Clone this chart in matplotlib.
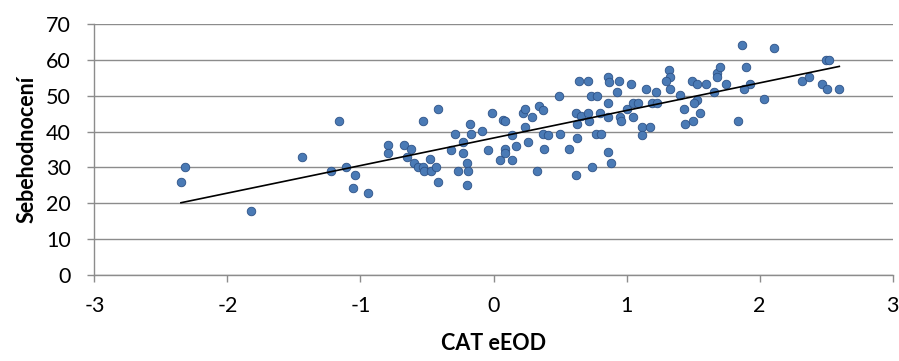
import numpy as np
import matplotlib.pyplot as plt

plt.rcParams['font.family'] = ['Lato', 'DejaVu Sans']

# CAT eEOD scores (x) and self-assessment (y)
cat_eeod = [
    -2.32, -2.35, -1.82, -1.44, -1.16, -1.22, -1.11, -1.04, -1.06, -0.94,
    -0.79, -0.79, -0.67, -0.62, -0.65, -0.60, -0.57, -0.53, -0.52, -0.48,
    -0.47, -0.43, -0.42, -0.53, -0.42, -0.32, -0.29, -0.27, -0.23, -0.23,
    -0.20, -0.19, -0.20, -0.18, -0.17, -0.09, -0.04, -0.01, 0.05, 0.07,
    0.09, 0.09, 0.09, 0.14, 0.14, 0.17, 0.22, 0.24, 0.24, 0.26,
    0.29, 0.33, 0.34, 0.37, 0.37, 0.38, 0.41, 0.49, 0.50, 0.57,
    0.62, 0.63, 0.62, 0.63, 0.64, 0.71, 0.66, 0.71, 0.73, 0.78,
    0.72, 0.74, 0.77, 0.81, 0.80, 0.86, 0.87, 0.94, 0.93, 0.86,
    0.86, 0.95, 0.96, 0.86, 0.88, 1.00, 1.03, 1.05, 1.09, 1.05,
    1.12, 1.12, 1.18, 1.15, 1.22, 1.19, 1.23, 1.32, 1.33, 1.30,
    1.33, 1.40, 1.43, 1.44, 1.49, 1.53, 1.53, 1.51, 1.50, 1.55,
    1.60, 1.68, 1.68, 1.70, 1.66, 1.75, 1.84, 1.87, 1.90, 1.93,
    1.88, 2.03, 2.11, 2.32, 2.37, 2.50, 2.52, 2.47, 2.51, 2.60,
]
sebehodnoceni = [
    30.0, 26.0, 17.9, 33.0, 43.0, 29.0, 30.0, 27.9, 24.2, 23.0,
    36.2, 34.1, 36.3, 35.1, 33.0, 31.3, 30.2, 30.2, 29.0, 32.3,
    29.0, 30.2, 26.0, 43.0, 46.2, 35.0, 39.3, 29.0, 37.2, 34.1,
    31.3, 29.0, 25.1, 42.1, 39.3, 40.2, 35.0, 45.1, 32.1, 43.2,
    43.0, 35.1, 33.9, 32.1, 39.0, 36.1, 45.1, 46.2, 41.4, 37.2,
    44.2, 29.0, 47.2, 46.0, 39.3, 35.1, 39.0, 50.0, 39.3, 35.1,
    27.9, 38.1, 45.1, 42.1, 54.1, 54.1, 44.3, 45.1, 50.0, 50.0,
    43.0, 30.0, 39.3, 39.3, 45.1, 55.1, 53.9, 54.1, 51.1, 48.0,
    44.2, 44.0, 42.9, 34.2, 31.1, 46.2, 53.2, 48.0, 48.0, 44.2,
    41.2, 39.0, 41.2, 51.9, 51.1, 48.0, 48.0, 57.2, 55.1, 54.1,
    51.9, 50.2, 46.2, 42.1, 54.1, 53.2, 48.8, 48.0, 43.0, 45.1,
    53.2, 56.2, 55.1, 58.1, 51.1, 53.2, 43.0, 64.1, 58.1, 53.2,
    51.9, 49.1, 63.2, 54.1, 55.1, 60.1, 60.1, 53.4, 52.0, 52.0,
]
x_ticks = [-3, -2, -1, 0, 1, 2, 3]
y_ticks = [0, 10, 20, 30, 40, 50, 60, 70]

x = np.array(cat_eeod)
y = np.array(sebehodnoceni)

fig = plt.figure(figsize=(8.99, 3.61), dpi=100)
ax = fig.add_axes([0.1051, 0.2382, 0.8877, 0.6953])

ax.scatter(x, y, s=38, color='#4a7ab5', edgecolor='#2d5287', linewidth=0.6, zorder=3)

# linear trend line
k, q = np.polyfit(x, y, 1)
xs = np.array([x.min(), x.max()])
ax.plot(xs, k * xs + q, color='black', linewidth=1.2, zorder=4)

ax.set_xlim(-3, 3)
ax.set_ylim(0, 70)
ax.set_xticks(x_ticks)
ax.set_yticks(y_ticks)
ax.set_xticklabels([str(t) for t in x_ticks])
ax.yaxis.grid(True, color='#8c8c8c', linewidth=1.0)
ax.set_axisbelow(True)
for s in ['top', 'right']:
    ax.spines[s].set_visible(False)
for s in ['left', 'bottom']:
    ax.spines[s].set_color('#8c8c8c')
    ax.spines[s].set_linewidth(1.0)
ax.tick_params(axis='both', colors='#8c8c8c', length=5, width=1.0,
               labelcolor='black', labelsize=15.5)
ax.tick_params(axis='x', pad=10)
ax.tick_params(axis='y', pad=12)

ax.set_xlabel('CAT eEOD', fontsize=15.5, fontweight='bold', labelpad=12)
ax.set_ylabel('Sebehodnocení', fontsize=15.5, fontweight='bold', labelpad=6)

fig.savefig('out.png', dpi=100)
